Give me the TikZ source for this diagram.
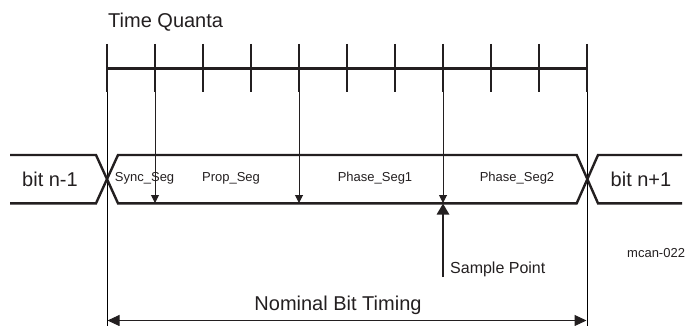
\documentclass[tikz,border=0pt]{standalone}
\usepackage{fontspec}
\setmainfont{Liberation Sans}
\usetikzlibrary{arrows.meta}
\definecolor{ink}{HTML}{231F20}
\definecolor{thin}{HTML}{555555}
\tikzset{
  bus/.style={ink, line width=2.4pt, line join=miter},
  tickln/.style={ink, line width=2.4pt},
  guide/.style={thin, line width=1pt},
  downarr/.style={ink, line width=1pt, -{Triangle[length=8pt,width=8pt]}},
  samplearr/.style={ink, line width=2.6pt, -{Triangle[length=11pt,width=12pt]}},
  spanarr/.style={ink, line width=1pt, {Triangle[length=12pt,width=11pt]}-{Triangle[length=12pt,width=11pt]}},
  big/.style={text=ink, font=\fontsize{20}{24}\selectfont, inner sep=0pt},
  seg/.style={text=ink, font=\fontsize{13}{15}\selectfont, inner sep=0pt},
  mid/.style={text=ink, font=\fontsize{16}{19}\selectfont, inner sep=0pt},
}
\begin{document}
\begin{tikzpicture}[x=1pt,y=-1pt]
\useasboundingbox (0,0) rectangle (685,326);
% time quanta scale
\draw[tickln] (107,68.7) -- (587,68.7);
\foreach \i in {0,...,10}{
  \draw[tickln] ({107+48*\i},44) -- ({107+48*\i},92.5);
}
\node[big, anchor=west] (tq) at (108,22) {Time Quanta};
% guide lines
\coordinate (gL) at (107,92.5);
\coordinate (gLb) at (107,326);
\coordinate (gR) at (587,92.5);
\coordinate (gRb) at (587,326);
\draw[guide] (gL) -- (gLb);
\draw[guide] (gR) -- (gRb);
% bus
\draw[bus] (10,155) -- (96,155) -- (118,203.3) -- (576.7,203.3) -- (598,155) -- (682,155);
\draw[bus] (10,203.3) -- (96,203.3) -- (118,155) -- (576.7,155) -- (598,203.3) -- (682,203.3);
% down arrows
\coordinate (a1) at (155,92.5); \coordinate (b1) at (155,203);
\coordinate (a2) at (299,92.5); \coordinate (b2) at (299,203);
\coordinate (a3) at (443,92.5); \coordinate (b3) at (443,203);
\draw[downarr] (a1) -- (b1);
\draw[downarr] (a2) -- (b2);
\draw[downarr] (a3) -- (b3);
% sample point
\coordinate (sp0) at (443,277);
\coordinate (sp1) at (443,203.5);
\draw[samplearr] (sp0) -- (sp1);
\node[mid, anchor=west] (spl) at (450,269) {Sample Point};
% labels
\node[big] (bnm1) at (50,179) {bit n-1};
\node[big] (bnp1) at (641,179) {bit n+1};
\node[seg] (sync) at (144.6,178) {Sync\_Seg};
\node[seg] (prop) at (231,178) {Prop\_Seg};
\node[seg] (ph1) at (375,178) {Phase\_Seg1};
\node[seg] (ph2) at (517,178) {Phase\_Seg2};
\node[seg, anchor=west] (mcan) at (627,253) {mcan-022};
% nominal bit timing
\coordinate (nL) at (107.5,320.5);
\coordinate (nR) at (586.5,320.5);
\draw[spanarr] (nL) -- (nR);
\node[big] (nbt) at (338,305) {Nominal Bit Timing};
\end{tikzpicture}
\end{document}
